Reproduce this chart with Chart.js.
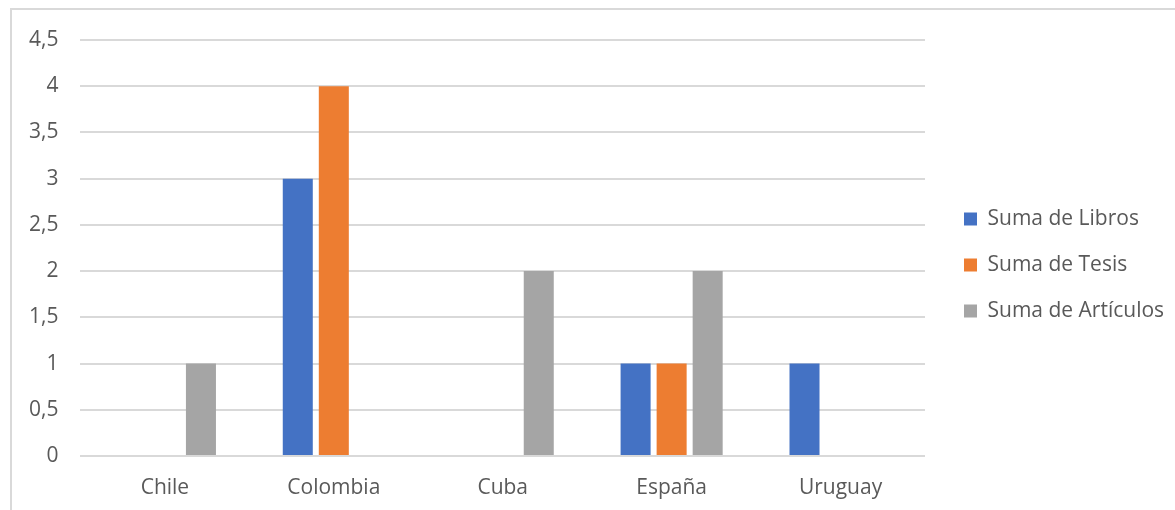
<!DOCTYPE html>
<html>
<head>
<meta charset="utf-8">
<script src="https://cdn.jsdelivr.net/npm/chart.js@4.4.1/dist/chart.umd.min.js"></script>
<style>
html,body{margin:0;padding:0;background:#fff;overflow:hidden;}
#frame{position:absolute;left:10px;top:8px;width:1175px;height:510px;border-left:2px solid #d9d9d9;border-top:2px solid #d9d9d9;}
#wrap{position:absolute;left:0;top:0;width:1175px;height:510px;}
</style>
</head>
<body>
<div id="frame"></div>
<div id="wrap"><canvas id="c"></canvas></div>
<script>
const categories = ["Chile", "Colombia", "Cuba", "España", "Uruguay"];
const libros = [null, 3, null, 1, 1];
const tesis = [null, 4, null, 1, null];
const articulos = [1, null, 2, 2, null];
const seriesNames = ["Suma de Libros", "Suma de Tesis", "Suma de Artículos"];
const seriesColors = ["#4472C4", "#ED7D31", "#A5A5A5"];

const FONT = "'Open Sans', 'Liberation Sans', sans-serif";

// nudge the legend box (position only) after layout
const legendNudge = {
  id: 'legendNudge',
  afterLayout(chart) {
    const lg = chart.legend;
    if (!lg) return;
    const dx = 14, dy = -10, extra = 30;
    lg.left += dx; lg.right += dx + extra; lg.width += extra;
    lg.top += dy; lg.bottom += dy;
  }
};

new Chart(document.getElementById('c'), {
  type: 'bar',
  data: {
    labels: categories,
    datasets: [libros, tesis, articulos].map((d, i) => ({
      label: seriesNames[i],
      data: d,
      backgroundColor: seriesColors[i],
      borderWidth: 0,
      categoryPercentage: 0.64,
      barPercentage: 0.833
    }))
  },
  options: {
    responsive: true,
    maintainAspectRatio: false,
    animation: false,
    layout: { padding: { left: 7, top: 40, right: 30, bottom: 0 } },
    plugins: {
      legend: {
        position: 'right',
        maxWidth: 220,
        labels: {
          boxWidth: 13, boxHeight: 13, padding: 25,
          color: '#595959',
          font: { family: FONT, size: 21 }
        }
      },
      tooltip: { enabled: false }
    },
    scales: {
      x: {
        grid: { display: false, drawTicks: false },
        border: { display: false },
        ticks: { color: '#595959', font: { family: FONT, size: 21 }, padding: 19 },
        afterFit: s => { s.height = 54; }
      },
      y: {
        min: 0, max: 4.5,
        grid: { color: '#d9d9d9', lineWidth: 2, drawTicks: false },
        border: { display: false },
        ticks: {
          stepSize: 0.5,
          color: '#595959',
          font: { family: FONT, size: 21 },
          padding: 22,
          callback: v => String(v).replace('.', ',')
        }
      }
    }
  },
  plugins: [legendNudge]
});
</script>
</body>
</html>
